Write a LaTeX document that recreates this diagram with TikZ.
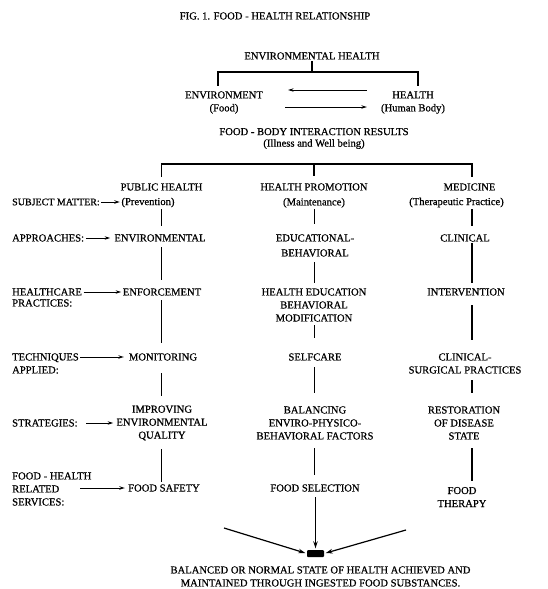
\documentclass[tikz,border=0pt]{standalone}
\usepackage{fontspec}
\setmainfont{Liberation Serif}[RawFeature={embolden=0.7}]
\usetikzlibrary{arrows.meta}
\begin{document}
\begin{tikzpicture}[x=1pt,y=-1pt,
  txt/.style={font=\fontsize{10.6}{13}\selectfont, inner sep=1.5pt, align=center},
  lft/.style={txt, align=left, anchor=west},
  ln/.style={line width=1.1pt},
  arr/.style={line width=1pt, -{Stealth[length=5.5pt,width=3.4pt]}},
  bigarr/.style={line width=1.2pt, -{Stealth[length=7pt,width=4.5pt]}},
]
\useasboundingbox (0,0) rectangle (548,589);
% columns
\coordinate (cL) at (161.5,0);
\coordinate (cM) at (314.5,0);
\coordinate (cR) at (472,0);
% top part
\node[txt] (title) at (275,16) {FIG. 1. FOOD - HEALTH RELATIONSHIP};
\node[txt] (eh) at (312,56) {ENVIRONMENTAL HEALTH};
\node[txt] (env) at (224,102.5) {ENVIRONMENT\\(Food)};
\node[txt] (hea) at (413,102.5) {HEALTH\\(Human Body)};
\coordinate (ya) at (0,90);
\coordinate (yb) at (0,107);
\draw[arr, shorten <=12.5pt, shorten >=23.5pt] (hea.west |- ya) -- (env.east |- ya);
\draw[arr, shorten <=20.5pt, shorten >=12.5pt] (env.east |- yb) -- (hea.west |- yb);
\coordinate (tb) at (312,72);
\draw[ln] (eh.south) -- (tb);
\draw[ln, shorten <=4pt, shorten >=4pt] ([xshift=-6pt]env.north) |- (tb) -| ([xshift=5pt]hea.north);
% interaction
\node[txt] (fbi) at (314,138.5) {FOOD - BODY INTERACTION RESULTS\\[-1.5pt](Illness and Well being)};
% heads
\node[txt] (ph) at (161.5,187) {PUBLIC HEALTH};
\node[txt] (phs) at (148,202.5) {(Prevention)};
\node[txt] (hp) at (314,195.5) {HEALTH PROMOTION\\[2pt](Maintenance)};
\node[txt] (med) at (469.5,187) {MEDICINE};
\node[txt] (meds) at (456.5,202.5) {(Therapeutic Practice)};
\coordinate (b2) at (314,164);
\draw[ln, shorten <=5pt, shorten >=5pt] (ph.north -| cL) |- (b2) -| (med.north -| cR);
\draw[ln, shorten >=6pt] (b2) -- (hp.north);
% left labels
\node[lft, font=\fontsize{10}{13}\selectfont] (subj) at (10.5,202) {SUBJECT MATTER:};
\node[lft] (appr) at (10.5,238) {APPROACHES:};
\node[lft] (hc) at (10.5,297.5) {HEALTHCARE\\[-2pt]PRACTICES:};
\node[lft] (tech) at (10.5,363.5) {TECHNIQUES\\APPLIED:};
\node[lft] (strat) at (10.5,423) {STRATEGIES:};
\node[lft] (fhr) at (10.5,489) {FOOD - HEALTH\\RELATED\\SERVICES:};
% left column
\node[txt] (env2) at (160,238) {ENVIRONMENTAL};
\node[txt] (enf) at (162,292) {ENFORCEMENT};
\node[txt] (mon) at (163,357) {MONITORING};
\node[txt] (imp) at (162,423) {IMPROVING\\ENVIRONMENTAL\\QUALITY};
\node[txt] (fs) at (164,488) {FOOD SAFETY};
% middle column
\node[txt] (edu) at (315,245.5) {EDUCATIONAL-\\[2pt]BEHAVIORAL};
\node[txt] (hed) at (314,305) {HEALTH EDUCATION\\BEHAVIORAL\\MODIFICATION};
\node[txt] (self) at (315,357) {SELFCARE};
\node[txt] (bal) at (315,423) {BALANCING\\ENVIRO-PHYSICO-\\BEHAVIORAL FACTORS};
\node[txt] (fsel) at (315,488) {FOOD SELECTION};
% right column
\node[txt] (clin) at (465,238) {CLINICAL};
\node[txt] (int) at (466,292) {INTERVENTION};
\node[txt] (cs) at (465,363.5) {CLINICAL-\\SURGICAL PRACTICES};
\node[txt] (rest) at (464,423) {RESTORATION\\OF DISEASE\\STATE};
\node[txt] (ft) at (462,497) {FOOD\\THERAPY};
% label arrows
\draw[arr] (subj.east) -- (subj.east -| phs.west);
\draw[arr, shorten >=2.6pt] (appr.east) -- (appr.east -| env2.west);
\draw[arr] (hc.east |- enf.west) -- (enf.west);
\draw[arr, shorten >=3.4pt] (tech.east |- mon.west) -- (mon.west);
\draw[arr, shorten <=7pt, shorten >=1.6pt] (strat.east) -- (strat.east -| imp.west);
\draw[arr, shorten <=69.5pt, shorten >=1.7pt] (fhr.west |- fs.west) -- (fs.west);
% left verticals
\draw[ln, shorten >=7pt] (phs.south -| cL) -- (env2.north -| cL);
\draw[ln, shorten <=4pt, shorten >=7pt] (env2.south -| cL) -- (enf.north -| cL);
\draw[ln, shorten <=3pt, shorten >=9pt] (enf.south -| cL) -- (mon.north -| cL);
\draw[ln, shorten <=11pt, shorten >=8pt] (mon.south -| cL) -- (imp.north -| cL);
\draw[ln, shorten <=7pt, shorten >=1pt] (imp.south -| cL) -- (fs.north -| cL);
% middle verticals
\draw[ln, shorten >=9pt] (hp.south -| cM) -- (edu.north -| cM);
\draw[ln, shorten <=4pt, shorten >=4pt] (edu.south -| cM) -- (hed.north -| cM);
\draw[ln, shorten <=2pt, shorten >=14pt] (hed.south -| cM) -- (self.north -| cM);
\draw[ln, shorten <=5pt, shorten >=12pt] (self.south -| cM) -- (bal.north -| cM);
\draw[ln, shorten <=7pt, shorten >=8pt] (bal.south -| cM) -- (fsel.north -| cM);
% right verticals
\draw[ln, shorten >=7pt] (meds.south -| cR) -- (clin.north -| cR);
\draw[ln, shorten >=4pt] (clin.south -| cR) -- (int.north -| cR);
\draw[ln, shorten <=8pt, shorten >=12pt] (int.south -| cR) -- (cs.north -| cR);
\draw[ln, shorten <=5pt, shorten >=12pt] (cs.south -| cR) -- (rest.north -| cR);
\draw[ln, shorten <=7pt, shorten >=4pt] (rest.south -| cR) -- (ft.north -| cR);
% bottom
\node[fill=black, minimum width=17pt, minimum height=7pt, inner sep=0pt, rounded corners=1pt] (sbox) at (315.5,553.5) {};
\coordinate (dl) at (224,528);
\coordinate (dr) at (406,530);
\draw[bigarr, shorten <=4pt, shorten >=1.5pt] (fsel.south -| sbox.north) -- (sbox.north);
\draw[bigarr, shorten >=1.5pt] (dl) -- (sbox.west);
\draw[bigarr, shorten >=1.5pt] (dr) -- (sbox.east);
\node[txt] (bt) at (320.5,576.5) {BALANCED OR NORMAL STATE OF HEALTH ACHIEVED AND\\MAINTAINED THROUGH INGESTED FOOD SUBSTANCES.};
\end{tikzpicture}
\end{document}
